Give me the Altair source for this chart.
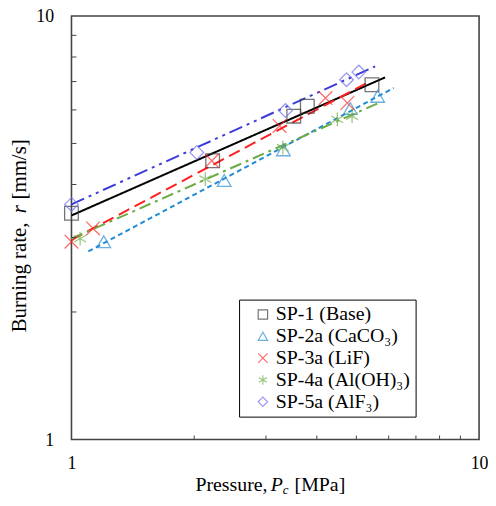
import altair as alt
import pandas as pd

series = ["SP-1 (Base)", "SP-2a (CaCO₃)", "SP-3a (LiF)", "SP-4a (Al(OH)₃)", "SP-5a (AlF₃)"]

sp1_p = [1.00, 2.22, 3.51, 3.79, 5.46]
sp1_r = [3.42, 4.55, 5.80, 6.12, 6.88]
sp2_p = [1.20, 2.37, 3.31, 4.83, 5.64]
sp2_r = [2.93, 4.09, 4.83, 6.05, 6.46]
sp3_p = [1.00, 1.13, 2.21, 3.24, 4.20, 4.75]
sp3_r = [2.93, 3.15, 4.55, 5.50, 6.40, 6.23]
sp4_p = [1.05, 2.13, 3.30, 4.49, 4.88]
sp4_r = [2.98, 4.12, 4.89, 5.70, 5.80]
sp5_p = [1.00, 2.03, 3.35, 4.73, 5.07]
sp5_r = [3.59, 4.76, 5.98, 7.07, 7.37]

fit_p_start = [1.00, 1.10, 1.00, 1.00, 1.00]
fit_r_start = [3.38, 2.78, 2.96, 2.98, 3.59]
fit_p_end = [5.88, 6.17, 5.36, 5.67, 5.56]
fit_r_end = [7.16, 6.76, 6.98, 6.23, 7.60]

minor_ticks = [2, 3, 4, 5, 6, 7, 8, 9]
axis_values = [1, 10]

marker_colors = ["#3c3c3c", "#2f8fd6", "#ff2b2b", "#72b04a", "#6f6fee"]
line_colors = ["#000000", "#1f8ad6", "#ff1f1f", "#6aac44", "#3c3cd8"]
shapes = ["square", "triangle-up", "M-1,-1L1,1M-1,1L1,-1",
          "M0,-1L0,1M-0.87,-0.5L0.87,0.5M-0.87,0.5L0.87,-0.5", "diamond"]
dashes = [[1, 0], [5, 3.5], [12, 6], [12, 5, 3, 5], [14, 5, 3, 5, 3, 5]]

FONT = "Liberation Serif"

all_p = [sp1_p, sp2_p, sp3_p, sp4_p, sp5_p]
all_r = [sp1_r, sp2_r, sp3_r, sp4_r, sp5_r]
rows = []
for s, ps, rs in zip(series, all_p, all_r):
    for p, r in zip(ps, rs):
        rows.append({"series": s, "P": p, "r": r})
pts_df = pd.DataFrame(rows)

tick_df = pd.DataFrame({"v": minor_ticks})

xs = alt.Scale(type="log", domain=[1, 10], nice=False)
ys = alt.Scale(type="log", domain=[1, 10], nice=False)
x_axis = alt.Axis(values=axis_values, format="~g", title=None, grid=False, ticks=False,
                  tickSize=0, domain=False, labelFont=FONT, labelFontSize=18,
                  labelColor="black", labelPadding=15, labelFlush=False)
y_axis = alt.Axis(values=axis_values, format="~g", title=None, grid=False, ticks=False,
                  tickSize=0, domain=False, labelFont=FONT, labelFontSize=18,
                  labelColor="black", labelPadding=18, labelFlush=False, labelOffset=1)

leg = alt.Legend(title=None, orient="none", legendX=169, legendY=286,
                 strokeColor="#000000", fillColor="white", padding=5,
                 labelFont=FONT, labelFontSize=20, labelColor="black",
                 symbolSize=90, symbolStrokeWidth=1.2, symbolOffset=9,
                 labelOffset=3, rowPadding=2, labelLimit=400,
                 labelExpr="datum.label + '\u00a0\u00a0\u00a0'")

line_layers = []
for i, s in enumerate(series):
    ldf = pd.DataFrame({"P": [fit_p_start[i], fit_p_end[i]],
                        "r": [fit_r_start[i], fit_r_end[i]]})
    line_layers.append(
        alt.Chart(ldf).mark_line(strokeWidth=2, color=line_colors[i], strokeDash=dashes[i]).encode(
            x=alt.X("P:Q", scale=xs, axis=x_axis),
            y=alt.Y("r:Q", scale=ys, axis=y_axis),
        )
    )

points = alt.Chart(pts_df).mark_point(filled=False, size=190, strokeWidth=1.3).encode(
    x=alt.X("P:Q", scale=xs, axis=x_axis),
    y=alt.Y("r:Q", scale=ys, axis=y_axis),
    color=alt.Color("series:N", scale=alt.Scale(domain=series, range=marker_colors), legend=leg),
    shape=alt.Shape("series:N", scale=alt.Scale(domain=series, range=shapes), legend=leg),
)

yticks = alt.Chart(tick_df).mark_rule(color="#444444", strokeWidth=1).encode(
    y=alt.Y("v:Q", scale=ys, axis=y_axis),
    x=alt.value(0), x2=alt.value(5),
)
xticks = alt.Chart(tick_df).mark_rule(color="#444444", strokeWidth=1).encode(
    x=alt.X("v:Q", scale=xs, axis=x_axis),
    y=alt.value(427), y2=alt.value(423),
)

one = pd.DataFrame({"k": [0]})

def txt(s, x, y, size=20, style="normal", angle=0):
    return alt.Chart(one).mark_text(font=FONT, fontSize=size, fontStyle=style, color="black",
                                    align="left", baseline="alphabetic", angle=angle).encode(
        x=alt.value(x), y=alt.value(y), text=alt.value(s))

xt1 = txt("Pressure,", 125, 479)
xt2 = txt("P", 201, 479, style="italic")
xt3 = txt("c", 213, 482, size=13, style="italic")
xt4 = txt("[MPa]", 225, 479)

yt1 = txt("Burning rate,", -46, 319, size=21, angle=270)
yt2 = txt("r", -46, 199, size=21, style="italic", angle=270)
yt3 = txt("[mm/s]", -46, 185, size=21, angle=270)

chart = alt.layer(*line_layers, points, yticks, xticks, xt1, xt2, xt3, xt4, yt1, yt2, yt3).properties(
    width=411, height=427,
    padding={"left": 64, "top": 6, "right": 9, "bottom": 57},
    autosize=alt.AutoSizeParams(type="none"),
).configure_view(stroke="#444444", strokeWidth=1.6)

chart.save("out.html", embed_options={"renderer": "svg", "actions": False})
